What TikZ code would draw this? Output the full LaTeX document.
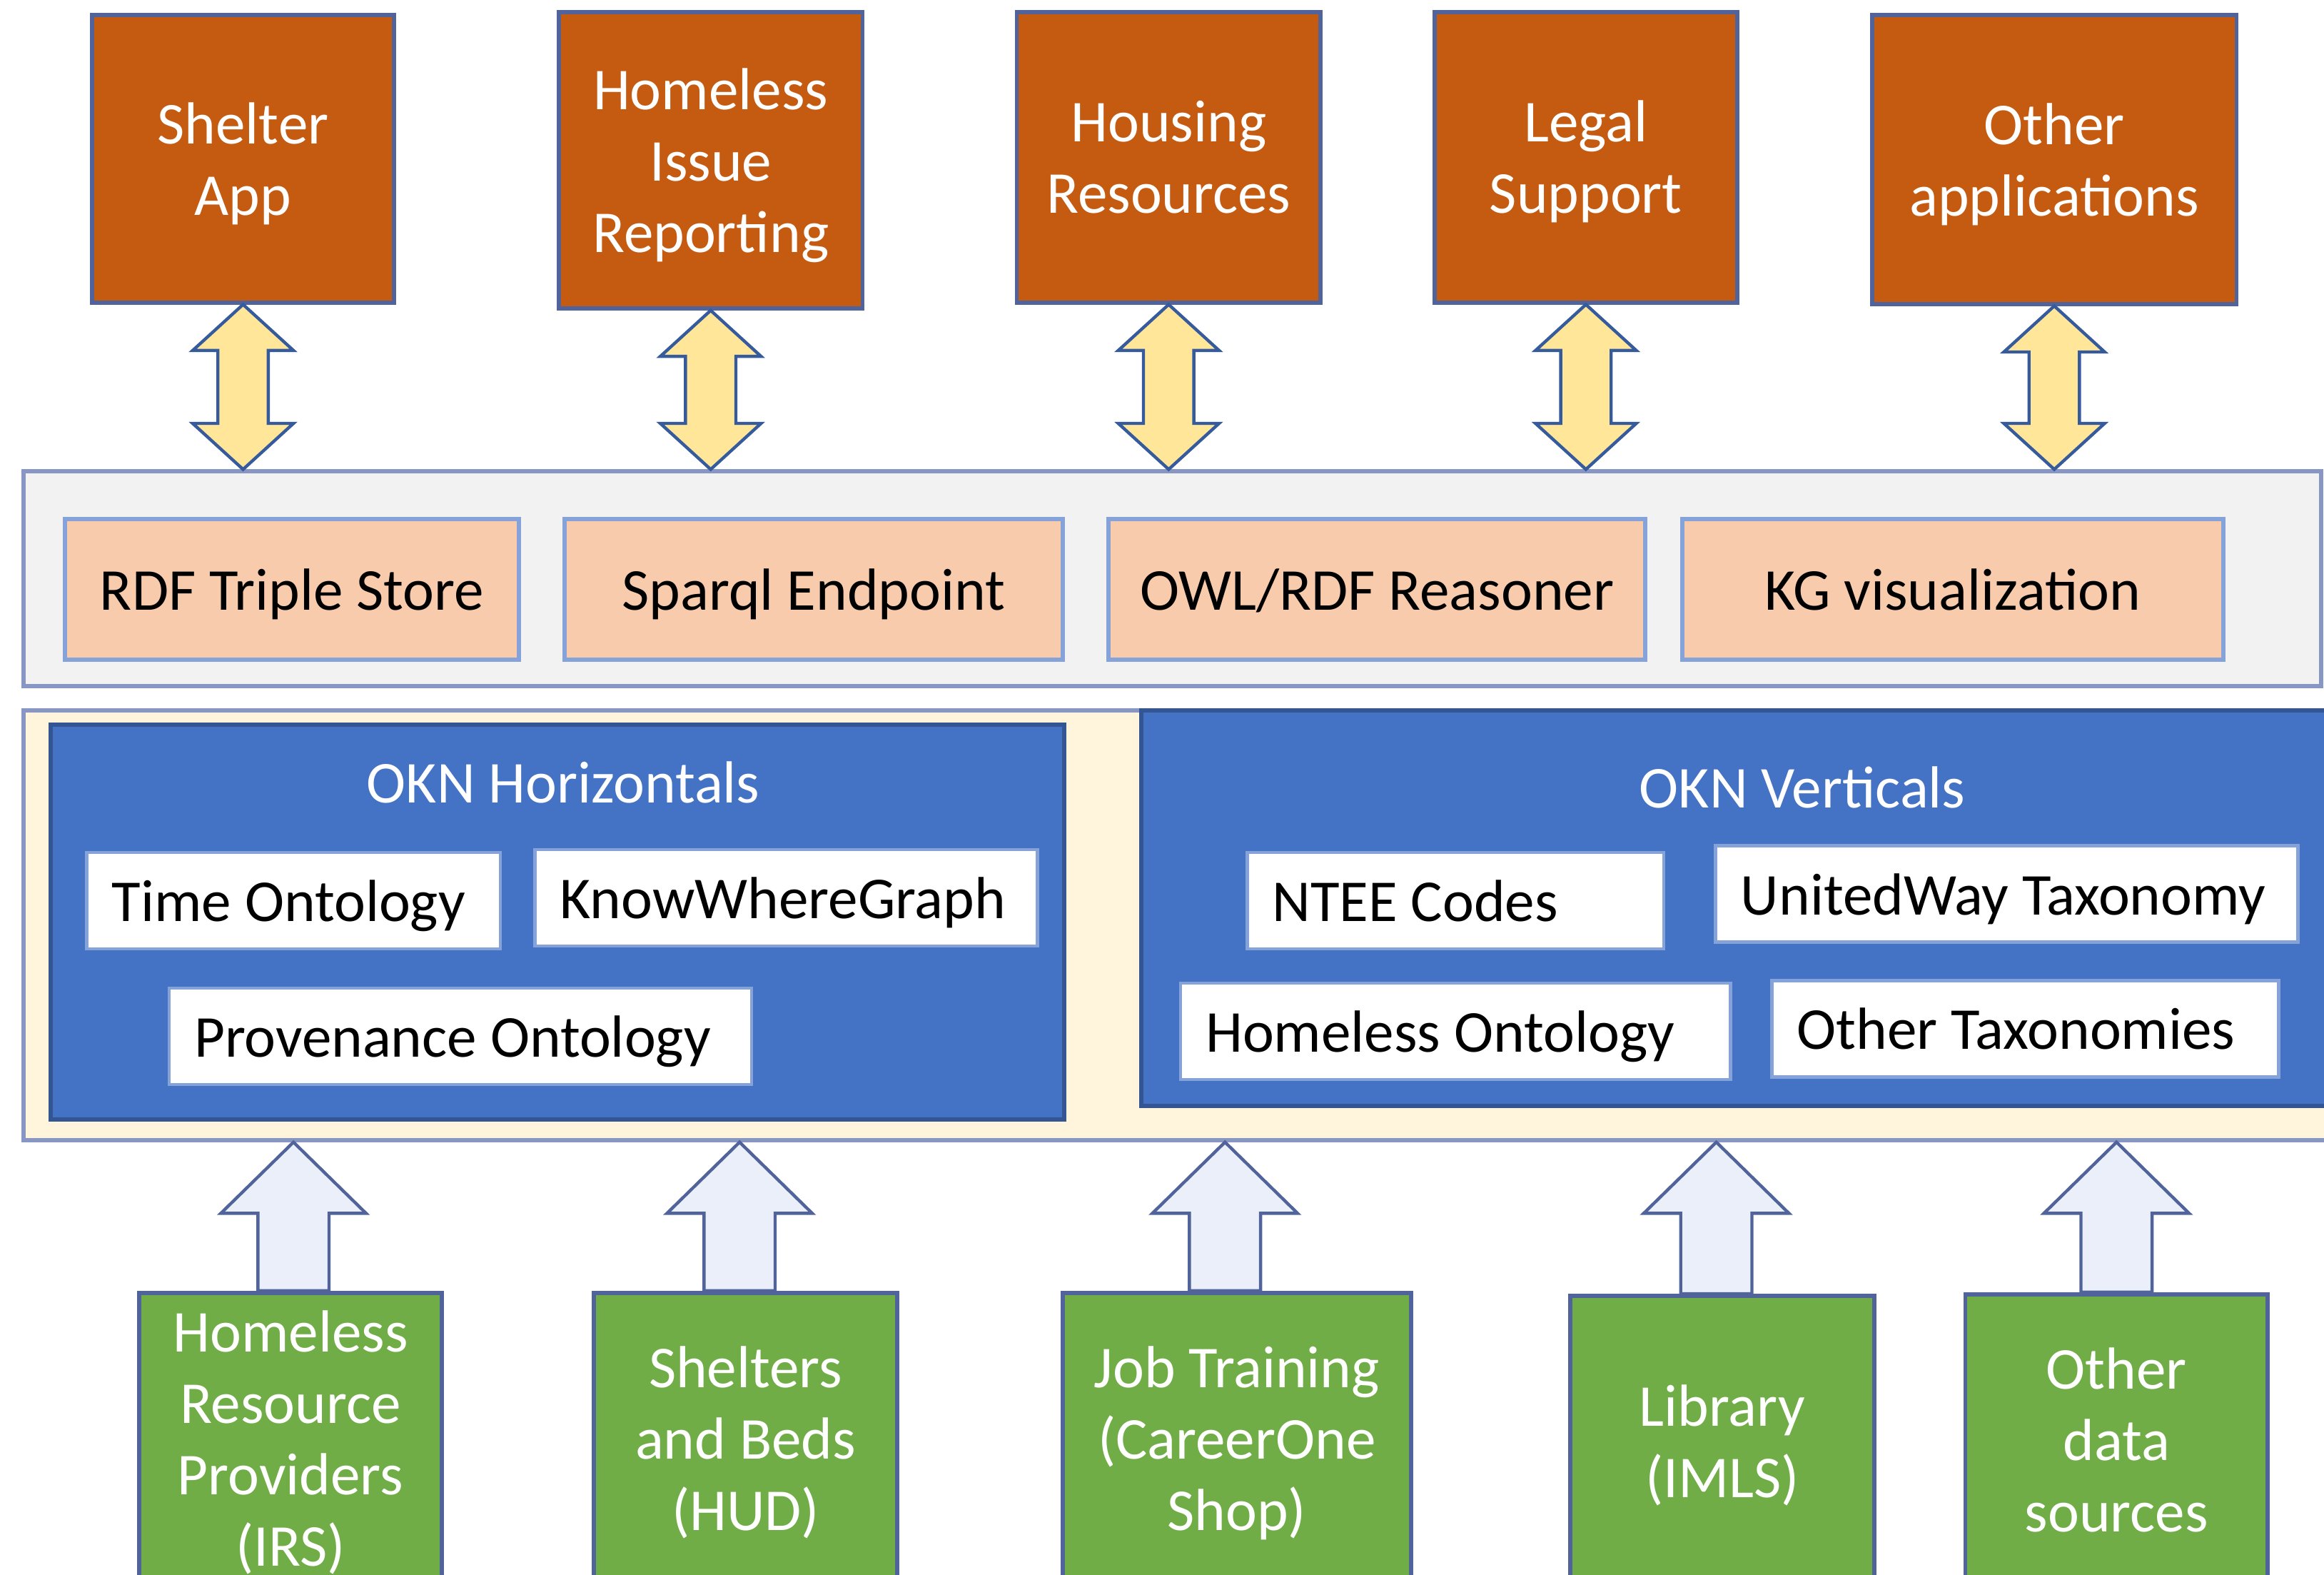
\documentclass[tikz,border=0pt]{standalone}
\usepackage{fontspec}
\setmainfont{Carlito}
\usetikzlibrary{positioning, calc}

\definecolor{apporange}{HTML}{C55A11}
\definecolor{toolpeach}{HTML}{F8CBAD}
\definecolor{stackgray}{HTML}{F2F2F2}
\definecolor{okncream}{HTML}{FFF5DD}
\definecolor{oknblue}{HTML}{4472C4}
\definecolor{srcgreen}{HTML}{70AD47}
\definecolor{duoyellow}{HTML}{FFE699}
\definecolor{feedblue}{HTML}{EAEFF9}
\definecolor{edgeblue}{HTML}{50639A}
\definecolor{paleedge}{HTML}{8796C2}
\definecolor{termedge}{HTML}{85A3D8}

% two-headed block arrow: app <-> service layer
\newcommand{\duoarrow}[2]{%
  \draw[duoblock] (#1.south) -- ++(34,31) -- ++(-17,0)
    -- ($(#1.south |- #2.north)+(17,-31)$) -- ++(17,0)
    -- (#1.south |- #2.north) -- ++(-34,-31) -- ++(17,0)
    -- ($(#1.south)+(-17,31)$) -- ++(-17,0) -- cycle;}

% block arrow: data source -> ontology layer (optional x offset)
\newcommand{\feedarrow}[3][0]{%
  \path ($(#2.north)+(#1,0)$) coordinate (base)
        (base |- #3.south) coordinate (tip);
  \draw[feedblock] ($(base)+(24,0)$) -- ($(tip)+(24,48)$)
    -- ($(tip)+(49,48)$) -- (tip) -- ($(tip)+(-49,48)$)
    -- ($(tip)+(-24,48)$) -- ($(base)+(-24,0)$) -- cycle;}

\begin{document}
\begin{tikzpicture}[
    x=0.1mm, y=-0.1mm,
    every node/.style = {font=\fontsize{11.4}{13.7}\selectfont},
    app/.style     = {rectangle, draw=edgeblue, fill=apporange, text=white,
                      line width=0.8pt, align=center, inner sep=0pt, text depth=0pt,
                      minimum width=20.4mm, minimum height=19.6mm},
    tool/.style    = {rectangle, draw=termedge, fill=toolpeach, line width=0.8pt,
                      inner sep=0pt, text depth=0pt, minimum height=9.5mm},
    layer/.style   = {rectangle, draw=paleedge, line width=0.8pt, inner sep=0pt},
    okn/.style     = {rectangle, draw=oknblue!75!black, fill=oknblue,
                      line width=0.8pt, inner sep=0pt},
    oknhead/.style = {text=white},
    term/.style    = {rectangle, draw=termedge, fill=white, line width=0.6pt,
                      inner xsep=1.7mm, inner ysep=0pt, minimum height=6.5mm,
                      text depth=0pt, align=flush left},
    source/.style  = {rectangle, draw=edgeblue, fill=srcgreen, text=white,
                      line width=0.8pt, align=center, inner sep=0pt, text depth=0pt,
                      minimum width=20.4mm, minimum height=19.6mm},
    duoblock/.style  = {draw=oknblue!80!black, fill=duoyellow, line width=0.6pt},
    feedblock/.style = {draw=edgeblue, fill=feedblue, line width=0.6pt}
  ]
  \useasboundingbox (0,0) rectangle (1568,1062);
  \clip (0,0) rectangle (1568,1062);

  % applications
  \node[app, minimum height=19.4mm] (shelter) at (164,107) {Shelter\\App};
  \node[app, minimum width=20.5mm, minimum height=20mm] (reporting) at (479.5,108)
       {Homeless\\Issue\\Reporting};
  \node[app, minimum width=20.5mm] (housing) at (788.5,106) {Housing\\Resources};
  \node[app] (legal) at (1070,106) {Legal\\Support};
  \node[app, minimum width=24.6mm, minimum height=19.5mm] (otherapps) at (1386,107.5)
       {Other\\applications};

  % service layer
  \node[layer, fill=stackgray, minimum width=155mm, minimum height=14.5mm]
       (stack) at (791,390.5) {};
  \node[tool, minimum width=30.6mm] (triplestore) at (197,397.5) {RDF Triple Store};
  \node[tool, minimum width=33.6mm] (sparql) at (549,397.5) {Sparql Endpoint};
  \node[tool, minimum width=36.2mm] (reasoner) at (929,397.5) {OWL/RDF Reasoner};
  \node[tool, minimum width=36.5mm] (kgvis) at (1317.5,397.5) {KG visualization};

  % ontology layer
  \node[layer, fill=okncream, minimum width=157.4mm, minimum height=29mm]
       (oknlayer) at (803,624) {};
  \node[okn, minimum width=68.4mm, minimum height=26.6mm] (horiz) at (376,622) {};
  \node[okn, minimum width=82mm, minimum height=26.7mm] (vert) at (1180,612.5) {};
  \node[oknhead] (horiztitle) at (380,528) {OKN Horizontals};
  \node[oknhead] (verttitle) at (1216,531) {OKN Verticals};

  \node[term, text width=24.5mm] (timeont) at (198,607.5) {Time Ontology};
  \node[term, text width=30.5mm] (kwg) at (530.5,605.5) {KnowWhereGraph};
  \node[term, text width=35.9mm] (provont) at (310.5,699) {Provenance Ontology};
  \node[term, text width=24.7mm] (ntee) at (982,607.5) {NTEE Codes};
  \node[term, text width=35.9mm] (uwtax) at (1354,603) {UnitedWay Taxonomy};
  \node[term, text width=33.7mm] (homeont) at (982,695.5) {Homeless Ontology};
  \node[term, text width=30.8mm] (othertax) at (1366.5,694) {Other Taxonomies};

  % data sources
  \node[source] (irs) at (196,970) {Homeless\\Resource\\Providers\\(IRS)};
  \node[source, minimum width=20.5mm] (hud) at (503,970) {Shelters\\and Beds\\(HUD)};
  \node[source, minimum width=23.5mm] (job) at (834.5,970)
       {Job Training\\(CareerOne\\Shop)};
  \node[source, minimum width=20.5mm] (imls) at (1162,972) {Library\\(IMLS)};
  \node[source] (othersrc) at (1428,971) {Other\\data\\sources};

  % arrows
  \foreach \a in {shelter, reporting, housing, legal, otherapps}
    \duoarrow{\a}{stack};
  \foreach \s/\dx in {irs/2, hud/-4, job/-8, imls/-4, othersrc/0}
    \feedarrow[\dx]{\s}{oknlayer};

\end{tikzpicture}
\end{document}
